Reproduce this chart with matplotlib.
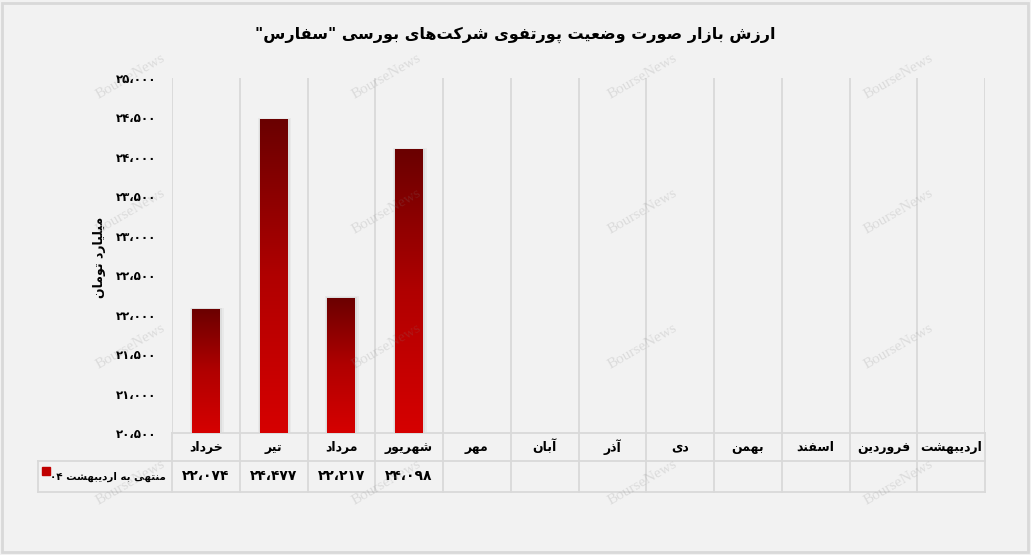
import matplotlib
matplotlib.use("Agg")
import matplotlib.pyplot as plt
import matplotlib.transforms as mtransforms
import numpy as np
from matplotlib.colors import LinearSegmentedColormap
from matplotlib.lines import Line2D
from matplotlib.patches import Rectangle
from matplotlib.ticker import FuncFormatter, MultipleLocator

# data
months = ["خرداد", "تیر", "مرداد", "شهریور", "مهر", "آبان", "آذر", "دی",
          "بهمن", "اسفند", "فروردین", "اردیبهشت"]
values = [22074, 24477, 22217, 24098]
series_name = "منتهی به اردیبهشت ۰۴"
title = 'ارزش بازار صورت وضعیت پورتفوی شرکت\u200cهای بورسی "سفارس"'
y_label = "میلیارد تومان"
y_min, y_max, y_step = 20500, 25000, 500

# arabic letter forms: isolated, final, initial, medial
FORMS = {
    'ا': (0xFE8D, 0xFE8E), 'آ': (0xFE81, 0xFE82), 'د': (0xFEA9, 0xFEAA),
    'ذ': (0xFEAB, 0xFEAC), 'ر': (0xFEAD, 0xFEAE), 'ز': (0xFEAF, 0xFEB0),
    'و': (0xFEED, 0xFEEE),
    'ب': (0xFE8F, 0xFE90, 0xFE91, 0xFE92), 'پ': (0xFB56, 0xFB57, 0xFB58, 0xFB59),
    'ت': (0xFE95, 0xFE96, 0xFE97, 0xFE98), 'خ': (0xFEA5, 0xFEA6, 0xFEA7, 0xFEA8),
    'س': (0xFEB1, 0xFEB2, 0xFEB3, 0xFEB4), 'ش': (0xFEB5, 0xFEB6, 0xFEB7, 0xFEB8),
    'ص': (0xFEB9, 0xFEBA, 0xFEBB, 0xFEBC), 'ض': (0xFEBD, 0xFEBE, 0xFEBF, 0xFEC0),
    'ع': (0xFEC9, 0xFECA, 0xFECB, 0xFECC), 'ف': (0xFED1, 0xFED2, 0xFED3, 0xFED4),
    'ک': (0xFB8E, 0xFB8F, 0xFB90, 0xFB91), 'ل': (0xFEDD, 0xFEDE, 0xFEDF, 0xFEE0),
    'م': (0xFEE1, 0xFEE2, 0xFEE3, 0xFEE4), 'ن': (0xFEE5, 0xFEE6, 0xFEE7, 0xFEE8),
    'ه': (0xFEE9, 0xFEEA, 0xFEEB, 0xFEEC), 'ی': (0xFBFC, 0xFBFD, 0xFBFE, 0xFBFF),
}


def shape(word):
    out = []
    for i, c in enumerate(word):
        if c not in FORMS:
            out.append(c)
            continue
        f = FORMS[c]
        prev = word[i - 1] if i > 0 else None
        nxt = word[i + 1] if i + 1 < len(word) else None
        jp = prev in FORMS and len(FORMS[prev]) == 4
        jn = len(f) == 4 and nxt in FORMS
        if jp and jn:
            g = f[3]
        elif jp:
            g = f[1]
        elif jn:
            g = f[2]
        else:
            g = f[0]
        out.append(chr(g))
    return ''.join(out)


def fa(text):
    vis = []
    for w in reversed(text.split(' ')):
        if any(c in FORMS for c in w):
            vis.append(shape(w)[::-1])
        else:
            vis.append(w)
    return ' '.join(vis).replace('\u200c', '')


def fa_num(v):
    s = f"{int(round(v)):,}".replace(',', '،')
    return s.translate(str.maketrans('0123456789', '۰۱۲۳۴۵۶۷۸۹'))


plt.rcParams['font.family'] = ['DejaVu Sans']
W, H = 1031, 555
bg = '#f2f2f2'
grid_c = '#d9d9d9'

fig = plt.figure(figsize=(W / 100, H / 100), dpi=100, facecolor=bg)
# plot area in pixels
left, right, top, bottom = 172, 985, 78, 433
ax = fig.add_axes([left / W, 1 - bottom / H, (right - left) / W, (bottom - top) / H])
ax.set_facecolor(bg)

n = len(months)
x = np.arange(len(values))
bars = ax.bar(x, np.array(values) - y_min, bottom=y_min, width=0.41,
              color='none', zorder=3)

# soft shadow + gradient fill
cmap = LinearSegmentedColormap.from_list('red', ['#d60000', '#b00000', '#6a0000'])
grad = np.linspace(0, 1, 256).reshape(-1, 1)
for b in bars:
    x0, y0 = b.get_x(), b.get_y()
    w, h = b.get_width(), b.get_height()
    for k, a in [(0.09, 0.035), (0.05, 0.05)]:
        ax.add_patch(Rectangle((x0 - k * 0.35, y0), w + k, h + k * 150,
                               color='black', alpha=a, lw=0, zorder=2))
    im = ax.imshow(grad, extent=[x0, x0 + w, y0, y0 + h], origin='lower',
                   cmap=cmap, aspect='auto', zorder=3)
    im.set_clip_path(b)

ax.set_xlim(-0.5, n - 0.5)
ax.set_ylim(y_min, y_max)
ax.set_xticks([])
ax.set_xticks(np.arange(n + 1) - 0.5, minor=True)
ax.tick_params(axis='x', which='both', length=0)
ax.grid(which='minor', axis='x', color=grid_c, lw=1.3, zorder=1)
ax.yaxis.set_major_locator(MultipleLocator(y_step))
ax.yaxis.set_major_formatter(FuncFormatter(lambda v, p: fa_num(v)))
ax.tick_params(axis='y', length=0, pad=11, labelsize=8.5)
for lab in ax.get_yticklabels():
    lab.set_fontweight('bold')
for s in ['left', 'right', 'top']:
    ax.spines[s].set_visible(False)
ax.spines['bottom'].set_color(grid_c)
ax.spines['bottom'].set_linewidth(1.3)

# data table under the chart
trans = mtransforms.blended_transform_factory(ax.transData, ax.transAxes)
hh = (461 - bottom) / (bottom - top)
th = (492 - bottom) / (bottom - top)
lx = (38 - left) / (right - left)
for b in np.arange(n + 1) - 0.5:
    ax.add_line(Line2D([b, b], [0, -th], transform=trans, color=grid_c,
                       lw=1.3, clip_on=False))
ax.add_line(Line2D([lx, lx], [-hh, -th], transform=ax.transAxes, color=grid_c,
                   lw=1.3, clip_on=False))
for yy in (-hh, -th):
    ax.add_line(Line2D([lx, 1], [yy, yy], transform=ax.transAxes, color=grid_c,
                       lw=1.3, clip_on=False))
for i, m in enumerate(months):
    ax.text(i, -hh / 2, fa(m), transform=trans, ha='center', va='center',
            fontsize=9, fontweight='bold')
for i, v in enumerate(values):
    ax.text(i, -(hh + th) / 2, fa_num(v), transform=trans, ha='center',
            va='center', fontsize=10, fontweight='bold')
ax.text((166 - left) / (right - left), -(hh + th) / 2, fa(series_name),
        transform=ax.transAxes, ha='right', va='center', fontsize=7.4,
        fontweight='bold')
ax.plot([(46 - left) / (right - left)], [-(471 - bottom) / (bottom - top)],
        marker='s', ms=6, color='#c00000', transform=ax.transAxes, clip_on=False)

fig.text(100 / W, 1 - 257 / H, fa(y_label), rotation=90, ha='center',
         va='center', fontsize=9, fontweight='bold')
fig.text(0.5, 1 - 35 / H, fa(title), ha='center', va='center', fontsize=11.5,
         fontweight='bold')

# watermark
for wy in [77, 212, 347, 483]:
    for wx in [130, 386, 642, 898]:
        fig.text(wx / W, 1 - wy / H, "BourseNews", family='Liberation Serif',
                 fontsize=11, rotation=30, color='#808080', alpha=0.2,
                 ha='center', va='center', zorder=10)

# outer border
fig.patches.append(Rectangle((2 / W, 3 / H), 1026 / W, 549 / H, fill=False,
                             edgecolor=grid_c, lw=2, transform=fig.transFigure))

fig.savefig('out.png', dpi=100, facecolor=bg)
